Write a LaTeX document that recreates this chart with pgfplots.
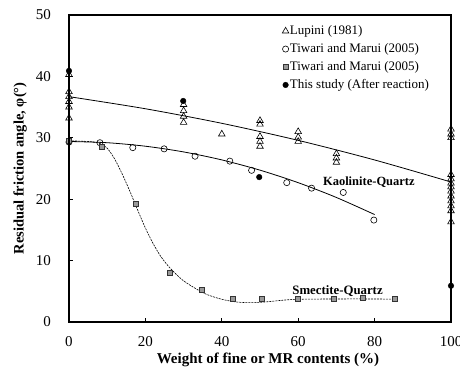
\documentclass[border=0pt]{standalone}
\usepackage{fontspec}
\setmainfont{Liberation Serif}
\usepackage{pgfplots}
\pgfplotsset{compat=1.18}
\begin{document}
\begin{tikzpicture}
\begin{axis}[
  name=ax,
  scale only axis,
  width=382pt, height=307pt,
  xmin=0, xmax=100, ymin=0, ymax=50,
  xtick={0,20,40,60,80,100},
  ytick={0,10,20,30,40,50},
  xtick pos=left, ytick pos=left,
  tick align=inside,
  major tick length=4pt,
  tick style={black, line width=0.8pt},
  axis line style={line width=1.5pt},
  /pgf/number format/assume math mode=true,
  tick label style={font=\fontsize{15}{18}\selectfont},
  xticklabel style={inner sep=0pt, anchor=north},
  yticklabel style={inner sep=0pt, anchor=east},
  xticklabel shift=14pt,
  yticklabel shift=18pt,
  xlabel={Weight of fine or MR contents (\%)},
  ylabel={Residual friction angle, φ(°)},
  xlabel style={font=\bfseries\fontsize{15}{18}\selectfont, at={(axis description cs:0.5,0)}, anchor=center, yshift=-38pt, xshift=8pt},
  ylabel style={font=\bfseries\fontsize{14.5}{17}\selectfont, at={(axis description cs:-0.128,0.5)}, anchor=center},
  clip=false,
  legend style={at={(0.55,0.975)}, anchor=north west, draw=none, fill=none,
    font=\fontsize{13}{15}\selectfont, row sep=5.4pt,
    nodes={inner sep=1pt}},
  legend cell align=left,
]
% Lupini trend
\addplot[black, line width=0.8pt, smooth, forget plot] coordinates {
  (0,36.7) (20,34.73) (40,32.36) (60,29.58) (80,26.39) (100,22.8)};
% Kaolinite-Quartz trend
\addplot[black, line width=0.8pt, smooth, forget plot] coordinates {
  (0,29.4) (10,29.2) (20,28.63) (30,27.7) (40,26.4) (50,24.73) (60,22.69) (70,20.28) (80,17.5)};
% Smectite-Quartz trend
\addplot[black, line width=0.6pt, dash pattern=on 2pt off 1pt, smooth, forget plot] coordinates {
  (0,29.5) (5,29.4) (8,29.1) (10,28.3) (12,26.5) (14,24) (16,21.2) (18,18.2) (20,15.3) (22,12.8)
  (24,10.7) (26,9.1) (28,7.8) (30,6.7) (33,5.5) (36,4.5) (40,3.7) (44,3.25) (48,3.15) (52,3.3)
  (56,3.55) (60,3.7) (70,3.75) (80,3.75) (86,3.7)};
% Lupini (1981)
\addplot[only marks, mark=triangle, mark size=3.8pt, mark options={black, solid, line width=0.6pt, fill=white}] coordinates {
  (0,40.3) (0,37.5) (0,36.7) (0,35.9) (0,35.0) (0,33.2)
  (30,35.4) (30,34.4) (30,33.5) (30,32.5)
  (40,30.6)
  (50,32.8) (50,32.2) (50,30.2) (50,29.4) (50,28.6)
  (60,31.0) (60,30.1) (60,29.4)
  (70,27.4) (70,26.7) (70,26.0)
  (100,31.4) (100,30.6) (100,30.0) (100,24.0) (100,23.3) (100,22.6) (100,22.0) (100,21.3)
  (100,20.5) (100,19.7) (100,18.9) (100,18.1) (100,16.3)};
\addlegendentry{Lupini (1981)}
% Tiwari and Marui circles
\addplot[only marks, mark=o, mark size=3.1pt, mark options={black, solid, line width=0.6pt, fill=white}] coordinates {
  (0,29.3) (8.1,29.2) (16.7,28.4) (24.9,28.2) (33,27.0) (42.1,26.2) (47.8,24.7)
  (57,22.7) (63.5,21.8) (71.8,21.1) (79.8,16.6)};
\addlegendentry{Tiwari and Marui (2005)}
% Tiwari and Marui squares
\addplot[only marks, mark=square*, mark size=2.5pt, mark options={draw=black!80, fill=black!40, solid, line width=0.6pt}] coordinates {
  (0,29.5) (8.5,28.6) (17.4,19.2) (26.3,8.0) (34.7,5.3) (43,3.8) (50.4,3.7)
  (59.8,3.8) (69.2,3.7) (76.8,4.0) (85.3,3.7)};
\addlegendentry{Tiwari and Marui (2005)}
% This study
\addplot[only marks, mark=*, mark size=2.8pt, mark options={black, solid}] coordinates {
  (0,40.9) (29.9,36.0) (49.8,23.6) (100,5.9)};
\addlegendentry{This study (After reaction)}
\node[font=\bfseries\fontsize{12.5}{15}\selectfont] at (axis cs:78.5,22.8) {Kaolinite-Quartz};
\node[font=\bfseries\fontsize{12.8}{15}\selectfont] at (axis cs:70.3,5.1) {Smectite-Quartz};
\end{axis}
\draw[black, solid, line width=1.5pt] (ax.south west) rectangle (ax.north east);
\pgfresetboundingbox
\path[use as bounding box] ([shift={(-69pt,-47pt)}]ax.south west) rectangle ([shift={(9pt,15pt)}]ax.north east);
\end{tikzpicture}
\end{document}
